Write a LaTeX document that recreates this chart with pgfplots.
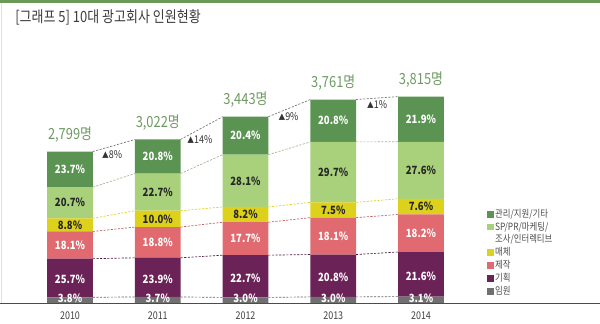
\documentclass[border=0pt]{standalone}
\usepackage{fontspec}
\setmainfont{Noto Sans CJK KR}[FakeStretch=0.84]
\usepackage{pgfplots}
\usepackage{pgfplotstable}
\pgfplotsset{compat=1.18}
\definecolor{cMgmt}{HTML}{5B9353}
\definecolor{cSP}{HTML}{A9D17C}
\definecolor{cMedia}{HTML}{DDD11B}
\definecolor{cProd}{HTML}{E06A6F}
\definecolor{cPlan}{HTML}{6B2257}
\definecolor{cExec}{HTML}{707070}
\definecolor{cTotal}{HTML}{6E9A62}
\definecolor{cTitle}{HTML}{3C3C3C}
\definecolor{cTop}{HTML}{6A9A58}

% values = share of headcount (%) scaled to the year's total headcount
\pgfplotstableread{
x y
0 105.5
1 111.9
2 103.2
3 112.9
4 118.3
}\execT
\pgfplotstableread{
x y
0 713.6
1 723.0
2 780.8
3 783.1
4 824.0
}\planT
\pgfplotstableread{
x y
0 502.6
1 568.7
2 608.8
3 681.4
4 694.3
}\prodT
\pgfplotstableread{
x y
0 244.4
1 302.5
2 282.0
3 282.4
4 289.9
}\mediaT
\pgfplotstableread{
x y
0 574.8
1 686.7
2 966.5
3 1118.1
4 1052.9
}\spT
\pgfplotstableread{
x y
0 658.1
1 629.2
2 701.7
3 783.1
4 835.5
}\mgmtT

\pgfplotsset{base/.style={
  scale only axis, width=450pt, height=227.25pt,
  xmin=-0.798, xmax=6.04, ymin=0, ymax=5600,
},
sqlegend/.style={legend image code/.code={\fill[##1] (-2.8pt,-2.6pt) rectangle (2.4pt,2.6pt);}},
sqlegendup/.style={legend image code/.code={\fill[##1] (-2.8pt,2.0pt) rectangle (2.4pt,7.2pt);}},
seglab/.style={draw=none, point meta=explicit symbolic, nodes near coords={\pgfplotspointmeta\%},
  every node near coord/.append style={anchor=center, inner sep=0pt, text=#1,
     font=\fontsize{8.5}{9}\selectfont\bfseries}},
}

\begin{document}
\begin{tikzpicture}
\begin{axis}[base, ybar stacked, bar width=0.52,
  axis x line*=bottom, axis y line=none,
  x axis line style={color=black!70, line width=0.7pt},
  xtick={0,1,2,3,4}, xticklabels={2010,2011,2012,2013,2014},
  major tick length=0pt,
  xticklabel style={font=\fontsize{8}{9}\selectfont, text=black!75, inner sep=0pt, anchor=north, yshift=-6pt},
  legend style={at={(rel axis cs:0.812,0.313)}, anchor=north west, draw=none, fill=none,
     font=\fontsize{7.5}{8.8}\selectfont, text=black!70, cells={anchor=west, align=left},
     nodes={inner sep=0.5pt}, row sep=1.1pt, inner sep=0pt},
  sqlegend,
  reverse legend,
]
\addplot[fill=cExec, draw=none] table[x=x,y=y]{\execT};
\addlegendentry{임원}
\addplot[fill=cPlan, draw=none] table[x=x,y=y]{\planT};
\addlegendentry{기획}
\addplot[fill=cProd, draw=none] table[x=x,y=y]{\prodT};
\addlegendentry{제작}
\addplot[fill=cMedia, draw=none] table[x=x,y=y]{\mediaT};
\addlegendentry{매체}
\addplot[fill=cSP, draw=none, sqlegendup] table[x=x,y=y]{\spT};
\addlegendentry{SP/PR/마케팅/\\조사/인터렉티브}
\addplot[fill=cMgmt, draw=none] table[x=x,y=y]{\mgmtT};
\addlegendentry{관리/지원/기타}
\end{axis}

\begin{axis}[base, hide axis, clip=false, unbounded coords=jump]
% dashed connectors between the tops of the segments
\addplot[black!60, dash pattern=on 1.6pt off 1.1pt, line width=0.5pt] coordinates {(0.26,105.5)(0.74,111.9)(1,nan)(1.26,111.9)(1.74,103.2)(2,nan)(2.26,103.2)(2.74,112.9)(3,nan)(3.26,112.9)(3.74,118.3)};
\addplot[cPlan!70!black, dash pattern=on 1.6pt off 1.1pt, line width=0.5pt] coordinates {(0.26,819.1)(0.74,834.9)(1,nan)(1.26,834.9)(1.74,884.0)(2,nan)(2.26,884.0)(2.74,896.0)(3,nan)(3.26,896.0)(3.74,942.3)};
\addplot[cProd!85!black, dash pattern=on 1.6pt off 1.1pt, line width=0.5pt] coordinates {(0.26,1321.7)(0.74,1403.6)(1,nan)(1.26,1403.6)(1.74,1492.8)(2,nan)(2.26,1492.8)(2.74,1577.4)(3,nan)(3.26,1577.4)(3.74,1636.6)};
\addplot[cMedia, dash pattern=on 1.6pt off 1.1pt, line width=0.5pt] coordinates {(0.26,1566.1)(0.74,1706.1)(1,nan)(1.26,1706.1)(1.74,1774.8)(2,nan)(2.26,1774.8)(2.74,1859.8)(3,nan)(3.26,1859.8)(3.74,1926.5)};
\addplot[cSP!60!black!60, dash pattern=on 1.6pt off 1.1pt, line width=0.5pt] coordinates {(0.26,2140.9)(0.74,2392.8)(1,nan)(1.26,2392.8)(1.74,2741.3)(2,nan)(2.26,2741.3)(2.74,2977.9)(3,nan)(3.26,2977.9)(3.74,2979.4)};
\addplot[black!55, dash pattern=on 1.6pt off 1.1pt, line width=0.5pt] coordinates {(0.26,2799)(0.74,3022)(1,nan)(1.26,3022)(1.74,3443)(2,nan)(2.26,3443)(2.74,3761)(3,nan)(3.26,3761)(3.74,3815)};
% segment labels (share of headcount, placed in the middle of each segment)
\addplot[seglab=white] coordinates {(0,92)[3.8] (1,92)[3.7] (2,92)[3.0] (3,92)[3.0] (4,92)[3.1]};
\addplot[seglab=white] coordinates {(0,432)[25.7] (1,443)[23.9] (2,464)[22.7] (3,475)[20.8] (4,500)[21.6]};
\addplot[seglab=white] coordinates {(0,1070)[18.1] (1,1119)[18.8] (2,1188)[17.7] (3,1237)[18.1] (4,1290)[18.2]};
\addplot[seglab=black!85] coordinates {(0,1444)[8.8] (1,1555)[10.0] (2,1634)[8.2] (3,1719)[7.5] (4,1782)[7.6]};
\addplot[seglab=black!85] coordinates {(0,1853)[20.7] (1,2050)[22.7] (2,2258)[28.1] (3,2419)[29.7] (4,2453)[27.6]};
\addplot[seglab=white] coordinates {(0,2470)[23.7] (1,2707)[20.8] (2,3092)[20.4] (3,3370)[20.8] (4,3397)[21.9]};
% totals
\addplot[draw=none, point meta=explicit symbolic, nodes near coords,
  every node near coord/.append style={anchor=base, inner sep=0pt, yshift=9pt, text=cTotal, font=\fontsize{11.5}{12}\selectfont}]
  coordinates {(0,2799)[2,799명] (1,3022)[3,022명] (2,3443)[3,443명] (3,3761)[3,761명] (4,3815)[3,815명]};
% growth rates
\addplot[draw=none, point meta=explicit symbolic, nodes near coords,
  every node near coord/.append style={anchor=center, inner sep=0pt, text=black!80, font=\fontsize{8}{9}\selectfont}]
  coordinates {(0.48,2736)[{\fontsize{6}{6}\selectfont▲}8\%] (1.48,3013)[{\fontsize{6}{6}\selectfont▲}14\%] (2.49,3438)[{\fontsize{6}{6}\selectfont▲}9\%] (3.5,3660)[{\fontsize{6}{6}\selectfont▲}1\%]};
\node[anchor=base west, inner sep=0pt, text=cTitle, font=\fontsize{11.6}{12}\selectfont] at (rel axis cs:0.025,0.925) {[그래프 5] 10대 광고회사 인원현황};
\end{axis}
\fill[cTop] (0,225.3pt) rectangle (450pt,227.25pt);
\draw[color=cTop!25, line width=0.8pt] (1.2pt,0pt) -- (1.2pt,225pt);
\pgfresetboundingbox
\path (0,-15.75pt) rectangle (450pt,227.25pt);
\end{tikzpicture}
\end{document}
